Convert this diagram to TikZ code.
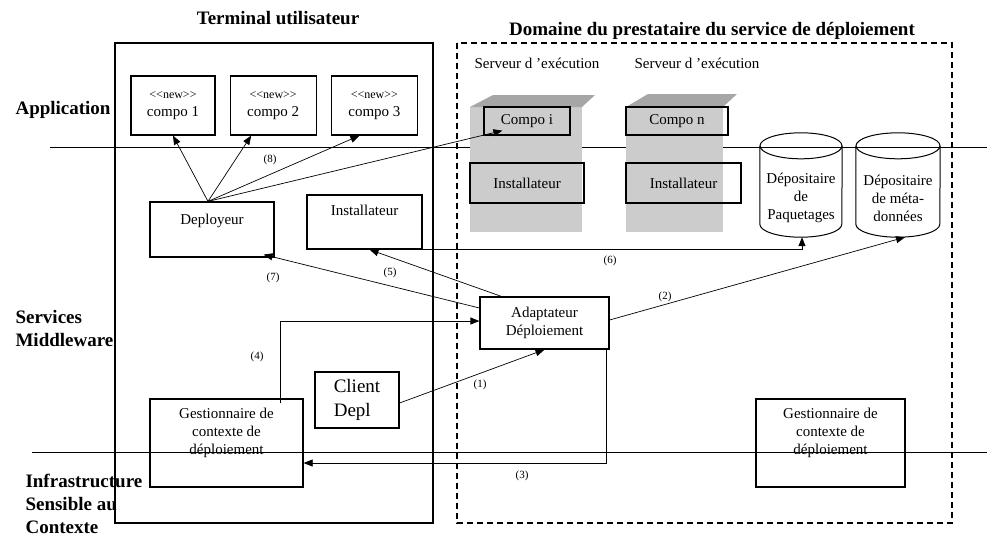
\documentclass[tikz,border=0pt]{standalone}
\usepackage{fontspec}
\setmainfont{Liberation Serif}
\newfontfamily\stereofont{Liberation Serif}
\usetikzlibrary{arrows.meta,positioning}

\newcommand{\boxfont}{\fontsize{15}{18}\selectfont}
\newcommand{\titlefont}{\fontsize{19}{23}\selectfont\bfseries}
\newcommand{\numfont}{\fontsize{11}{13}\selectfont}
\newcommand{\stereo}{{\stereofont\fontsize{12}{13}\selectfont <<new>>}}

\begin{document}
\begin{tikzpicture}[x=1pt,y=-1pt,
  box/.style={draw, line width=1.2pt, font=\boxfont, align=center},
  store/.style={font=\boxfont, align=center, minimum height=78pt},
  flow/.style={line width=0.7pt, -{Triangle[length=9pt,width=7pt]}},
  num/.style={font=\numfont},
  layer/.style={font=\titlefont, align=left, anchor=west}]

\useasboundingbox (0,0) rectangle (987,536);

% Layers
\draw[line width=1pt] (50,147) -- (987,147);
\draw[line width=1pt] (32,452) -- (987,452);
\node[layer] (applab) at (12,110) {Application};
\node[layer] (midlab) at (12,328) {Services\\Middleware};
\node[layer] (infralab) at (22,504) {Infrastructure\\Sensible au\\Contexte};

% Terminal and provider domain
\draw[line width=1.2pt] (115,43) rectangle (433,523);
\draw[line width=1.2pt, dash pattern=on 6pt off 4pt] (457,43) rectangle (952,523);
\node[font=\titlefont] (termtitle) at (278,18) {Terminal utilisateur};
\node[font=\titlefont] (domtitle) at (712,31) {Domaine du prestataire du service de déploiement};

% Execution servers (gray blocks)
\fill[gray!40] (470,107) rectangle (582,232);
\fill[gray!70] (470,107) -- (493,95) -- (595,95) -- (582,107) -- cycle;
\fill[gray!40] (626,107) rectangle (723,232);
\fill[gray!70] (626,107) -- (648,94) -- (737,94) -- (723,107) -- cycle;
\node[font=\boxfont] (serv1lab) at (537,63) {Serveur d 'exécution};
\node[font=\boxfont] (serv2lab) at (697,63) {Serveur d 'exécution};

% Components on the terminal
\node[box, minimum width=84pt, minimum height=59pt] (compo1) at (173,105.5) {\stereo\\compo 1};
\node[box, minimum width=86pt, minimum height=59pt, right=14pt of compo1] (compo2) {\stereo\\compo 2};
\node[box, minimum width=86pt, minimum height=59pt, right=14pt of compo2] (compo3) {\stereo\\compo 3};

% Components on the servers
\node[box, minimum width=86pt, minimum height=28pt] (compoi) at (527,121) {Compo i};
\node[box, minimum width=102pt, minimum height=28pt] (compon) at (677,121) {Compo n};
\node[box, minimum width=114pt, minimum height=40pt] (instA) at (527,183) {Installateur};
\node[box, minimum width=115pt, minimum height=40pt] (instB) at (683.5,183) {Installateur};

% Middleware services
\node[box, minimum width=124pt, minimum height=55pt, text depth=21pt] (deployeur) at (212,229.5) {Deployeur};
\node[box, minimum width=115pt, minimum height=54pt, text depth=23pt] (install) at (364.5,222) {Installateur};
\node[box, minimum width=129pt, minimum height=52pt] (adapt) at (544.5,323) {Adaptateur\\Déploiement};
\node[box, minimum width=84pt, minimum height=56pt, align=left,
      font=\fontsize{19}{24}\selectfont] (client) at (357,400) {Client\\Depl};

% Context managers
\node[box, minimum width=153pt, minimum height=88pt, text depth=23pt] (gestL) at (226.5,443) {Gestionnaire de\\contexte de\\déploiement};
\node[box, minimum width=149pt, minimum height=88pt, text depth=23pt] (gestR) at (830.5,443) {Gestionnaire de\\contexte de\\déploiement};

% Repositories
\node[store, minimum width=82pt] (paq) at (801,198) {Dépositaire\\de\\Paquetages};
\node[store, minimum width=84pt] (meta) at (898,198) {Dépositaire\\de méta-\\données};
\draw[line width=1pt] ([yshift=13pt]paq.north) ellipse [x radius=41pt, y radius=13pt];
\draw[line width=1pt] ([yshift=13pt]paq.north west) -- ([yshift=13pt]paq.south west)
  arc[start angle=180, end angle=360, x radius=41pt, y radius=13pt] -- ([yshift=13pt]paq.north east);
\draw[line width=1pt] ([yshift=13pt]meta.north) ellipse [x radius=42pt, y radius=13pt];
\draw[line width=1pt] ([yshift=13pt]meta.north west) -- ([yshift=13pt]meta.south west)
  arc[start angle=180, end angle=360, x radius=42pt, y radius=13pt] -- ([yshift=13pt]meta.north east);

% Steps
\draw[flow] ([yshift=-3pt]client.east) -- (adapt.south);
\draw[flow] ([yshift=3pt]adapt.east) -- ([xshift=7pt]meta.south);
\draw[flow] ([xshift=-3pt]adapt.south east) |- ([yshift=-20pt]gestL.east);
\draw[flow] ([shift={(-23pt,-5pt)}]gestL.north east) |- ([yshift=2pt]adapt.west);
\draw[flow] ([xshift=22pt]adapt.north west) -- ([xshift=5pt]install.south);
\draw[flow] (install.south east) -| ([xshift=1pt]paq.south);
\draw[flow] ([yshift=15pt]adapt.west) -- ([shift={(-11pt,3pt)}]deployeur.south east);
\draw[flow] ([xshift=-4pt]deployeur.north) -- (compo1.south);
\draw[flow] ([xshift=-4pt]deployeur.north) -- ([xshift=-22pt]compo2.south);
\draw[flow] ([xshift=-4pt]deployeur.north) -- ([xshift=-15pt]compo3.south);
\draw[flow] ([xshift=-4pt]deployeur.north) -- ([shift={(19pt,5pt)}]compoi.south west);

% Step numbers
\node[num] (n1) at (480,385) {(1)};
\node[num] (n2) at (665,297) {(2)};
\node[num] (n3) at (522,476) {(3)};
\node[num] (n4) at (257,357) {(4)};
\node[num] (n5) at (390,273) {(5)};
\node[num] (n6) at (610,261) {(6)};
\node[num] (n7) at (273,278) {(7)};
\node[num] (n8) at (270,160) {(8)};

\end{tikzpicture}
\end{document}
